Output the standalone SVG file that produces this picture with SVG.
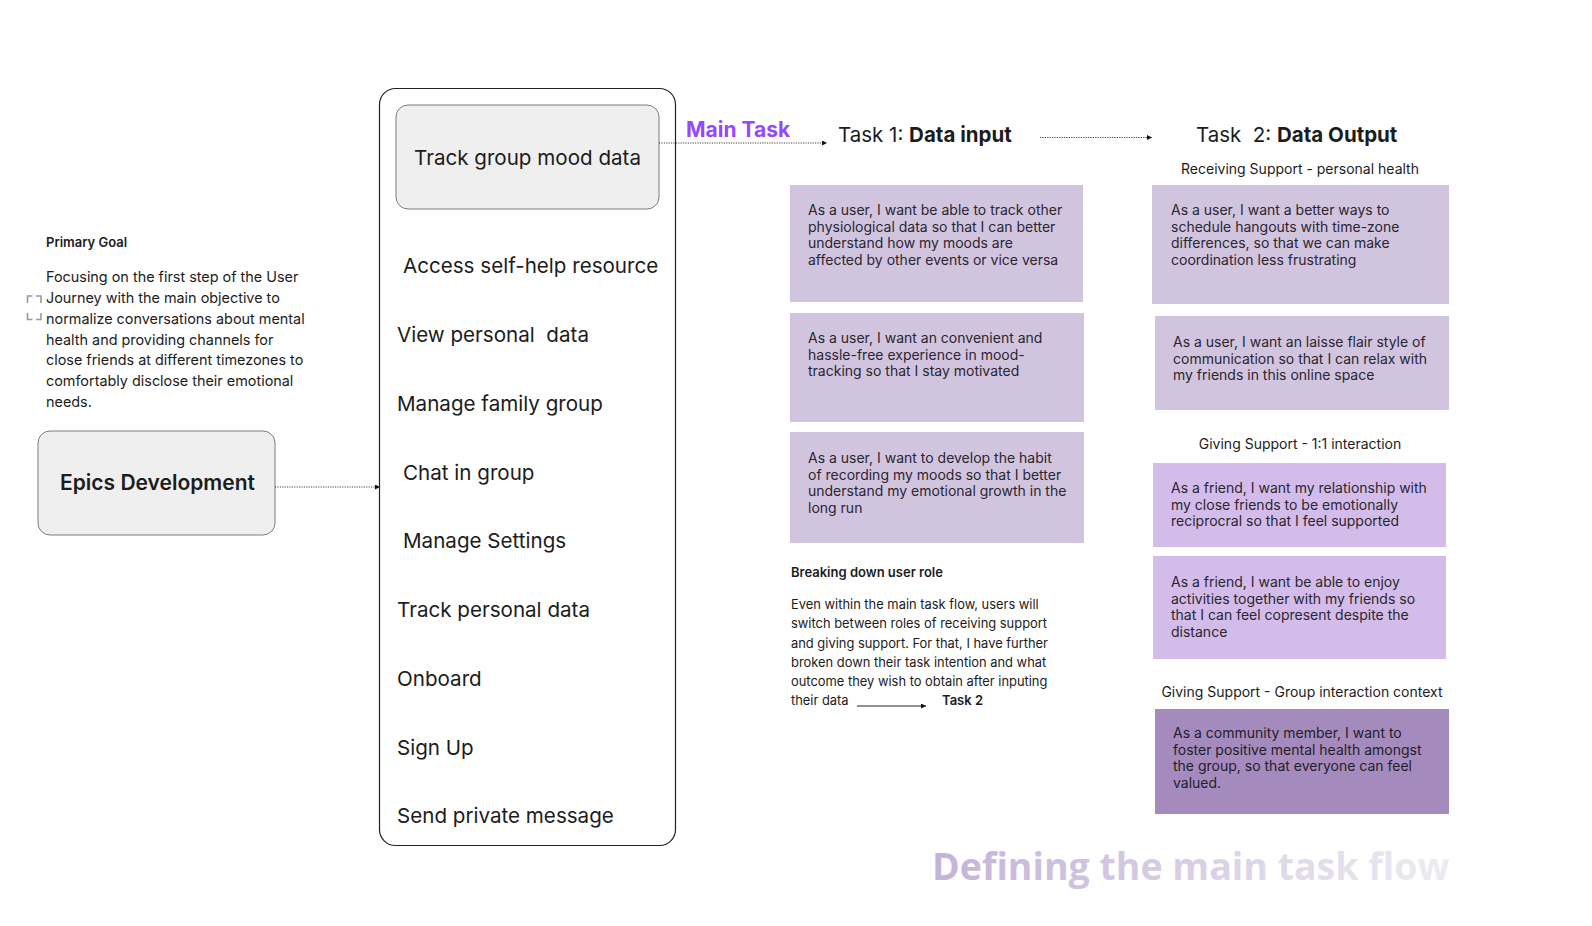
<svg xmlns="http://www.w3.org/2000/svg" width="1592" height="926" viewBox="0 0 1592 926">
<defs>
<style>
text{font-family:Inter,"Noto Sans","Liberation Sans",sans-serif;fill:#1c1c1c}
.item{font-size:20.6px}
.story{font-size:14px;fill:#2b2630}
.small{font-size:13px}
.label{font-size:14px;text-anchor:middle}
.head{font-size:20.5px}
.b{font-weight:700}
.sb{font-weight:600}
.card1{fill:#d1c4de}
.card2{fill:#d3bce9}
.card3{fill:#a58bbd}
.dot{fill:none;stroke:#444;stroke-width:1;stroke-dasharray:1.2 1.2}
.solid{fill:none;stroke:#222;stroke-width:1}
.gbox{fill:#efefef;stroke:#7c7c7c;stroke-width:1}
.handle{fill:none;stroke:#9a9a9a;stroke-width:1.6}
</style>
<marker id="arr" viewBox="0 0 6 6" refX="6" refY="3" markerWidth="5" markerHeight="5" markerUnits="userSpaceOnUse" orient="auto">
<path d="M0,0 L6,3 L0,6 Z" fill="#111"/>
</marker>
<linearGradient id="titleGrad" x1="0" y1="0" x2="1" y2="0">
<stop offset="0" stop-color="#c4b3d9"/>
<stop offset="1" stop-color="#ecebf1"/>
</linearGradient>
</defs>
<rect width="1592" height="926" fill="#ffffff"/>

<g id="primary-goal">
<text x="46" y="247" class="small sb">Primary Goal</text>
<text font-size="14.4" fill="#222">
<tspan x="46" y="282">Focusing on the first step of the User</tspan>
<tspan x="46" y="303">Journey with the main objective to</tspan>
<tspan x="46" y="323.5">normalize conversations about mental</tspan>
<tspan x="46" y="344.5">health and providing channels for</tspan>
<tspan x="46" y="365">close friends at different timezones to</tspan>
<tspan x="46" y="386">comfortably disclose their emotional</tspan>
<tspan x="46" y="407">needs.</tspan>
</text>
<path class="handle" d="M27.5,303 V296 H32.5 M36,296 H41 V303 M27.5,313 V319.5 H32.5 M36,319.5 H41 V313"/>
</g>

<g id="epics">
<rect class="gbox" x="38" y="431" width="237" height="104" rx="12"/>
<text x="60" y="490" font-size="21" class="sb" fill="#111">Epics Development</text>
</g>

<g id="epic-list">
<rect x="379.5" y="88.5" width="296" height="757" rx="16" fill="#fff" stroke="#222" stroke-width="1.2"/>
<g id="track-group">
<rect class="gbox" x="396" y="105" width="263" height="104" rx="12"/>
<text x="414" y="165" class="item">Track group mood data</text>
</g>
<text x="403" y="273" class="item">Access self-help resource</text>
<text x="397" y="342" class="item" xml:space="preserve">View personal  data</text>
<text x="397" y="411" class="item">Manage family group</text>
<text x="403" y="479.5" class="item">Chat in group</text>
<text x="403" y="548" class="item">Manage Settings</text>
<text x="397" y="617" class="item">Track personal data</text>
<text x="397" y="686" class="item">Onboard</text>
<text x="397" y="754.5" class="item">Sign Up</text>
<text x="397" y="823" class="item">Send private message</text>
</g>

<g id="main-task-label">
<text x="686" y="137" font-size="21" class="b" style="fill:#9747ff">Main Task</text>
</g>

<g id="task1">
<text x="838" y="142" class="head">Task 1: <tspan class="b">Data input</tspan></text>
<g id="t1-card1">
<rect class="card1" x="790" y="185" width="293" height="117"/>
<text class="story"><tspan x="808" y="215">As a user, I want be able to track other</tspan><tspan x="808" y="231.5">physiological data so that I can better</tspan><tspan x="808" y="248">understand how my moods are</tspan><tspan x="808" y="264.5">affected by other events or vice versa</tspan></text>
</g>
<g id="t1-card2">
<rect class="card1" x="790" y="313" width="294" height="109"/>
<text class="story"><tspan x="808" y="343">As a user, I want an convenient and</tspan><tspan x="808" y="359.5">hassle-free experience in mood-</tspan><tspan x="808" y="376">tracking so that I stay motivated</tspan></text>
</g>
<g id="t1-card3">
<rect class="card1" x="790" y="432" width="294" height="111"/>
<text class="story"><tspan x="808" y="463">As a user, I want to develop the habit</tspan><tspan x="808" y="479.5">of recording my moods so that I better</tspan><tspan x="808" y="496">understand my emotional growth in the</tspan><tspan x="808" y="512.5">long run</tspan></text>
</g>
</g>

<g id="breaking-down">
<text x="791" y="577" class="small sb">Breaking down user role</text>
<text font-size="12.9" fill="#222">
<tspan x="791" y="609">Even within the main task flow, users will</tspan>
<tspan x="791" y="628">switch between roles of receiving support</tspan>
<tspan x="791" y="647.5">and giving support. For that, I have further</tspan>
<tspan x="791" y="667">broken down their task intention and what</tspan>
<tspan x="791" y="686">outcome they wish to obtain after inputing</tspan>
<tspan x="791" y="705">their data</tspan>
</text>
<text x="942" y="705" class="small sb">Task 2</text>
</g>

<g id="task2">
<text x="1196" y="142" class="head" xml:space="preserve">Task  2: <tspan class="b">Data Output</tspan></text>
<text x="1300" y="174" class="label">Receiving Support - personal health</text>
<g id="t2-card1">
<rect class="card1" x="1152" y="185" width="297" height="119"/>
<text class="story"><tspan x="1171" y="215">As a user, I want a better ways to</tspan><tspan x="1171" y="231.5">schedule hangouts with time-zone</tspan><tspan x="1171" y="248">differences, so that we can make</tspan><tspan x="1171" y="264.5">coordination less frustrating</tspan></text>
</g>
<g id="t2-card2">
<rect class="card1" x="1155" y="316" width="294" height="94"/>
<text class="story"><tspan x="1173" y="347">As a user, I want an laisse flair style of</tspan><tspan x="1173" y="363.5">communication so that I can relax with</tspan><tspan x="1173" y="380">my friends in this online space</tspan></text>
</g>
<text x="1300" y="449" class="label">Giving Support - 1:1 interaction</text>
<g id="t2-card3">
<rect class="card2" x="1153" y="463" width="293" height="84"/>
<text class="story"><tspan x="1171" y="493">As a friend, I want my relationship with</tspan><tspan x="1171" y="509.5">my close friends to be emotionally</tspan><tspan x="1171" y="526">reciprocral so that I feel supported</tspan></text>
</g>
<g id="t2-card4">
<rect class="card2" x="1153" y="556" width="293" height="103"/>
<text class="story"><tspan x="1171" y="587">As a friend, I want be able to enjoy</tspan><tspan x="1171" y="603.5">activities together with my friends so</tspan><tspan x="1171" y="620">that I can feel copresent despite the</tspan><tspan x="1171" y="636.5">distance</tspan></text>
</g>
<text x="1302" y="697" class="label">Giving Support - Group interaction context</text>
<g id="t2-card5">
<rect class="card3" x="1155" y="709" width="294" height="105"/>
<text class="story" style="fill:#241d2b"><tspan x="1173" y="738">As a community member, I want to</tspan><tspan x="1173" y="754.5">foster positive mental health amongst</tspan><tspan x="1173" y="771">the group, so that everyone can feel</tspan><tspan x="1173" y="787.5">valued.</tspan></text>
</g>
</g>

<g id="connectors">
<line class="dot" x1="275" y1="487" x2="380" y2="487" marker-end="url(#arr)"/>
<line class="dot" x1="659" y1="143" x2="827" y2="143" marker-end="url(#arr)"/>
<line class="dot" x1="1040" y1="137.5" x2="1152" y2="137.5" marker-end="url(#arr)"/>
<line class="solid" x1="857" y1="706" x2="926" y2="706" marker-end="url(#arr)"/>
</g>

<g id="title">
<text x="932" y="880" font-size="37.5" font-weight="700" style="font-family:'Open Sans','Noto Sans',sans-serif;fill:url(#titleGrad)">Defining the main task flow</text>
</g>
</svg>
